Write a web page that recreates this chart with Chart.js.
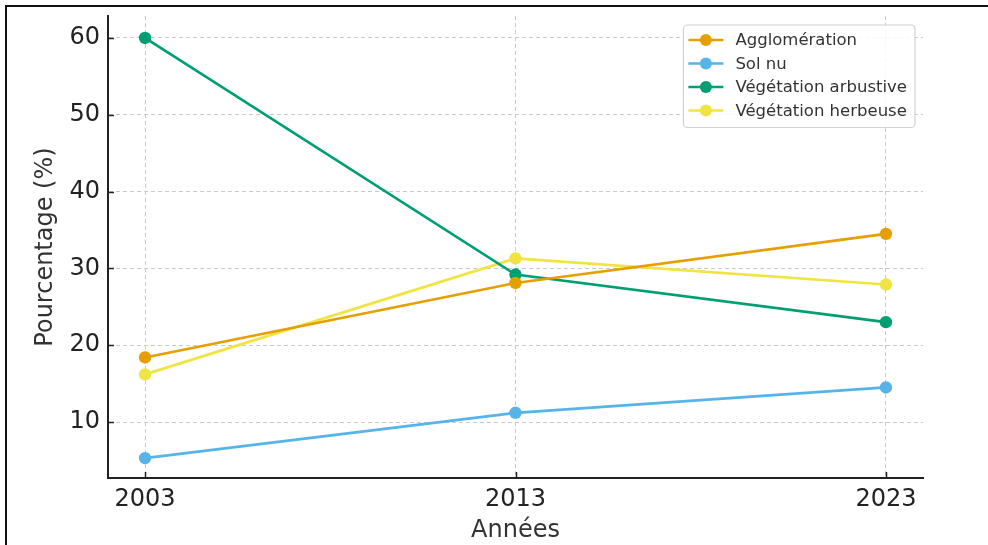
<!DOCTYPE html>
<html>
<head>
<meta charset="utf-8">
<script src="https://cdn.jsdelivr.net/npm/chart.js@4.4.1/dist/chart.umd.min.js"></script>
<style>
  html, body { margin: 0; padding: 0; background: #fff; }
  #wrap { position: relative; width: 988px; height: 545px; overflow: hidden; background: #fff; }
  #frame { position: absolute; left: 5px; top: 5px; width: 1200px; height: 1200px;
           border-top: 2px solid #111; border-left: 2px solid #111; pointer-events: none; }
</style>
</head>
<body>
<div id="wrap">
  <canvas id="c" width="988" height="545"></canvas>
  <div id="frame"></div>
</div>
<script>
// Land-cover shares per year (%)
const years = [2003, 2013, 2023];
const seriesNames = ['Agglomération', 'Sol nu', 'Végétation arbustive', 'Végétation herbeuse'];
const agglomeration = [18.4, 28.1, 34.5];
const solNu = [5.3, 11.2, 14.5];
const vegArbustive = [60.0, 29.2, 23.0];
const vegHerbeuse = [16.2, 31.3, 27.9];
const yTicks = [10, 20, 30, 40, 50, 60];
const xTitle = 'Années';
const yTitle = 'Pourcentage (%)';

const colors = ['#E69F00', '#56B4E9', '#009E73', '#F0E442'];
const seriesValues = [agglomeration, solNu, vegArbustive, vegHerbeuse];

Chart.defaults.font.family = "'DejaVu Sans', sans-serif";
Chart.defaults.color = '#222';

const datasets = seriesNames.map((name, i) => ({
  label: name,
  data: years.map((yr, j) => ({ x: yr, y: seriesValues[i][j] })),
  borderColor: colors[i],
  backgroundColor: colors[i],
  borderWidth: 2.7,
  pointRadius: 6.2,
  pointBorderWidth: 0,
  pointHoverRadius: 6.2,
  tension: 0
}));

// inward tick marks on the left and bottom axes
const innerTicks = {
  id: 'innerTicks',
  afterDatasetsDraw(chart) {
    const ctx = chart.ctx;
    const xs = chart.scales.x, ys = chart.scales.y;
    const area = chart.chartArea;
    ctx.save();
    ctx.strokeStyle = '#222';
    ctx.lineWidth = 1.5;
    ctx.beginPath();
    ys.ticks.forEach(t => {
      const py = Math.round(ys.getPixelForValue(t.value)) + 0.5;
      ctx.moveTo(area.left, py);
      ctx.lineTo(area.left + 6, py);
    });
    xs.ticks.forEach(t => {
      const px = Math.round(xs.getPixelForValue(t.value)) + 0.5;
      ctx.moveTo(px, area.bottom);
      ctx.lineTo(px, area.bottom - 6);
    });
    ctx.stroke();
    ctx.restore();
  }
};

// framed legend in the upper right of the plot
const boxLegend = {
  id: 'boxLegend',
  afterDraw(chart) {
    const ctx = chart.ctx;
    const area = chart.chartArea;
    const font = "16.5px 'DejaVu Sans', sans-serif";
    ctx.save();
    ctx.font = font;
    const sets = chart.data.datasets;
    const maxW = Math.max(...sets.map(d => ctx.measureText(d.label).width));
    const padL = 5, handle = 35, gap = 12, padR = 8, rowH = 23.5, padT = 15;
    const w = padL + handle + gap + maxW + padR;
    const h = padT * 2 + rowH * (sets.length - 1) + 2;
    const right = area.right - 8;
    const left = right - w;
    const top = area.top + 9;
    ctx.beginPath();
    ctx.roundRect(left, top, w, h, 4);
    ctx.fillStyle = 'rgba(255,255,255,0.85)';
    ctx.fill();
    ctx.strokeStyle = '#d2d2d2';
    ctx.lineWidth = 1.2;
    ctx.stroke();
    sets.forEach((d, i) => {
      const cy = top + padT + i * rowH;
      const x0 = left + padL;
      ctx.strokeStyle = d.borderColor;
      ctx.lineWidth = 2.7;
      ctx.beginPath();
      ctx.moveTo(x0, cy);
      ctx.lineTo(x0 + handle, cy);
      ctx.stroke();
      ctx.fillStyle = d.backgroundColor;
      ctx.beginPath();
      ctx.arc(x0 + handle / 2, cy, 6, 0, Math.PI * 2);
      ctx.fill();
      ctx.fillStyle = '#333';
      ctx.textBaseline = 'middle';
      ctx.textAlign = 'left';
      ctx.fillText(d.label, x0 + handle + gap, cy + 1);
    });
    ctx.restore();
  }
};

const noEdgePadding = s => {
  s.paddingTop = 0; s.paddingBottom = 0; s.paddingLeft = 0; s.paddingRight = 0;
};

new Chart(document.getElementById('c'), {
  type: 'line',
  data: { datasets },
  options: {
    responsive: false,
    animation: false,
    events: [],
    layout: { padding: { left: 20, right: 65, top: 16, bottom: 0 } },
    plugins: { legend: { display: false }, tooltip: { enabled: false } },
    scales: {
      x: {
        type: 'linear',
        min: 2002,
        max: 2024,
        afterBuildTicks: s => { s.ticks = years.map(v => ({ value: v })); },
        afterFit: s => { s.height = 67; noEdgePadding(s); },
        ticks: {
          padding: 7,
          font: { size: 24 },
          color: '#222',
          callback: v => String(v),
          maxRotation: 0,
          autoSkip: false
        },
        grid: { color: '#c9c9c9', lineWidth: 1, drawTicks: false },
        border: { display: true, color: '#222', width: 2, dash: [4, 3] },
        title: { display: true, text: xTitle, font: { size: 24 }, color: '#333', padding: { top: 0, bottom: 0 } }
      },
      y: {
        min: 2.71,
        max: 62.86,
        afterBuildTicks: s => { s.ticks = yTicks.map(v => ({ value: v })); },
        afterFit: s => { s.width = 88; noEdgePadding(s); },
        ticks: { padding: 8, font: { size: 24 }, color: '#222', callback: v => String(v) },
        grid: { color: '#c9c9c9', lineWidth: 1, drawTicks: false },
        border: { display: true, color: '#222', width: 2, dash: [4, 3] },
        title: { display: true, text: yTitle, font: { size: 24 }, color: '#333', padding: { top: 11.6, bottom: 0 } }
      }
    }
  },
  plugins: [innerTicks, boxLegend]
});
</script>
</body>
</html>
